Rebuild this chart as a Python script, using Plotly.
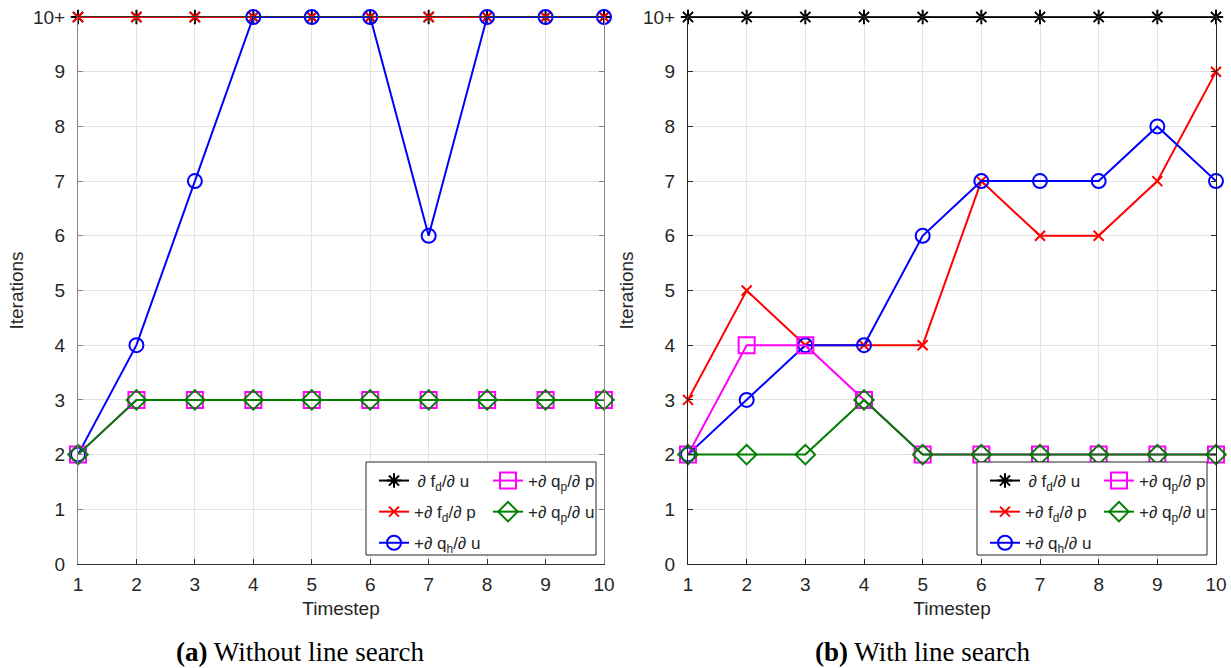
import plotly.graph_objects as go

# Timesteps and iteration counts (10 means "10+", i.e. did not converge)
timesteps = [1, 2, 3, 4, 5, 6, 7, 8, 9, 10]

# (a) Without line search
a_fd_u = [10, 10, 10, 10, 10, 10, 10, 10, 10, 10]
a_fd_p = [10, 10, 10, 10, 10, 10, 10, 10, 10, 10]
a_qh_u = [2, 4, 7, 10, 10, 10, 6, 10, 10, 10]
a_qp_p = [2, 3, 3, 3, 3, 3, 3, 3, 3, 3]
a_qp_u = [2, 3, 3, 3, 3, 3, 3, 3, 3, 3]

# (b) With line search
b_fd_u = [10, 10, 10, 10, 10, 10, 10, 10, 10, 10]
b_fd_p = [3, 5, 4, 4, 4, 7, 6, 6, 7, 9]
b_qh_u = [2, 3, 4, 4, 6, 7, 7, 7, 8, 7]
b_qp_p = [2, 4, 4, 3, 2, 2, 2, 2, 2, 2]
b_qp_u = [2, 2, 2, 3, 2, 2, 2, 2, 2, 2]

y_ticks = [0, 1, 2, 3, 4, 5, 6, 7, 8, 9, 10]
y_ticktext = ["0", "1", "2", "3", "4", "5", "6", "7", "8", "9", "10+"]

names = [
    "\u2009\u2202 f<sub>d</sub>/\u2202 u",
    "+\u2202 f<sub>d</sub>/\u2202 p",
    "+\u2202 q<sub>h</sub>/\u2202 u",
    "+\u2202 q<sub>p</sub>/\u2202 p",
    "+\u2202 q<sub>p</sub>/\u2202 u",
]
colors = ["#000000", "#ff0000", "#0000ff", "#ff00ff", "#007f00"]
symbols = ["asterisk-open", "x-thin-open", "circle-open", "square-open", "diamond-open"]
sizes = [12, 10, 14, 16, 15]

TEXT = "#262626"
GRID = "#e3e3e3"
FONT = "Liberation Sans, Arial, sans-serif"
TICK_SIZE = 19
TITLE_SIZE = 19

fig = go.Figure()

panels = [
    ("x", "y", [a_fd_u, a_fd_p, a_qh_u, a_qp_p, a_qp_u], ["legend", "legend", "legend", "legend2", "legend2"], "a"),
    ("x2", "y2", [b_fd_u, b_fd_p, b_qh_u, b_qp_p, b_qp_u], ["legend3", "legend3", "legend3", "legend4", "legend4"], "b"),
]
for xa, ya, series, legs, tag in panels:
    for i, vals in enumerate(series):
        fig.add_trace(go.Scatter(
            x=timesteps, y=vals, xaxis=xa, yaxis=ya,
            mode="lines+markers", name=names[i],
            legend=legs[i], legendgroup=f"{tag}{i}",
            line=dict(color=colors[i], width=2),
            marker=dict(symbol=symbols[i], size=sizes[i], color=colors[i],
                        line=dict(color=colors[i], width=2)),
            cliponaxis=False,
        ))

W, H = 1231, 668


def px(x):
    return x / W


def py(y):
    return 1 - y / H


ydom = [py(564), py(17)]
axis_common = dict(
    automargin=False,
    showgrid=True, gridcolor=GRID, gridwidth=1,
    ticks="inside", ticklen=5, tickwidth=1, mirror="ticks",
    showline=True, linewidth=1,
    tickfont=dict(family=FONT, size=TICK_SIZE, color=TEXT),
    zeroline=False,
)
xtitle = dict(text="Timestep", font=dict(family=FONT, size=TITLE_SIZE, color=TEXT), standoff=7)
ytitle = dict(text="Iterations", font=dict(family=FONT, size=TITLE_SIZE, color=TEXT), standoff=4)

fig.update_layout(
    width=W, height=H,
    margin=dict(l=0, r=0, t=0, b=0, autoexpand=False),
    paper_bgcolor="white", plot_bgcolor="white",
    font=dict(family=FONT, color=TEXT),
    xaxis=dict(domain=[px(78), px(604)], range=[1, 10], tickvals=timesteps,
               anchor="y", linecolor="#333333", tickcolor="#333333",
               ticklabelstandoff=3, title=xtitle, **axis_common),
    yaxis=dict(domain=ydom, range=[0, 10], tickvals=y_ticks, ticktext=y_ticktext,
               anchor="x", linecolor="#858585", tickcolor="#858585",
               ticklabelstandoff=8, title=ytitle, **axis_common),
    xaxis2=dict(domain=[px(688), px(1216)], range=[1, 10], tickvals=timesteps,
                anchor="y2", linecolor="#262626", tickcolor="#262626",
                ticklabelstandoff=3, title=xtitle, **axis_common),
    yaxis2=dict(domain=ydom, range=[0, 10], tickvals=y_ticks, ticktext=y_ticktext,
                anchor="x2", linecolor="#262626", tickcolor="#262626",
                ticklabelstandoff=8, title=ytitle, **axis_common),
    showlegend=True,
)

legend_common = dict(
    orientation="v", xanchor="left", yanchor="top",
    bgcolor="rgba(0,0,0,0)", borderwidth=0,
    font=dict(family=FONT, size=17, color=TEXT),
    traceorder="grouped", tracegroupgap=6, itemclick=False, itemdoubleclick=False,
)
fig.update_layout(
    legend=dict(x=px(374), y=py(463), **legend_common),
    legend2=dict(x=px(488), y=py(463), **legend_common),
    legend3=dict(x=px(985), y=py(463), **legend_common),
    legend4=dict(x=px(1099), y=py(463), **legend_common),
)

# legend frames
for x0, x1 in [(366, 596), (977, 1207)]:
    fig.add_shape(type="rect", xref="paper", yref="paper",
                  x0=px(x0), x1=px(x1), y0=py(555), y1=py(462),
                  fillcolor="white", line=dict(color="#262626", width=1), layer="above")

# panel captions
for cx, txt in [(300, "<b>(a)</b> Without line search"), (923, "<b>(b)</b> With line search")]:
    fig.add_annotation(x=px(cx), y=py(652), xref="paper", yref="paper",
                       text=txt, showarrow=False, xanchor="center", yanchor="middle",
                       font=dict(family="Liberation Serif, Times New Roman, serif", size=27, color="#000000"))

fig.write_html("out.html")
